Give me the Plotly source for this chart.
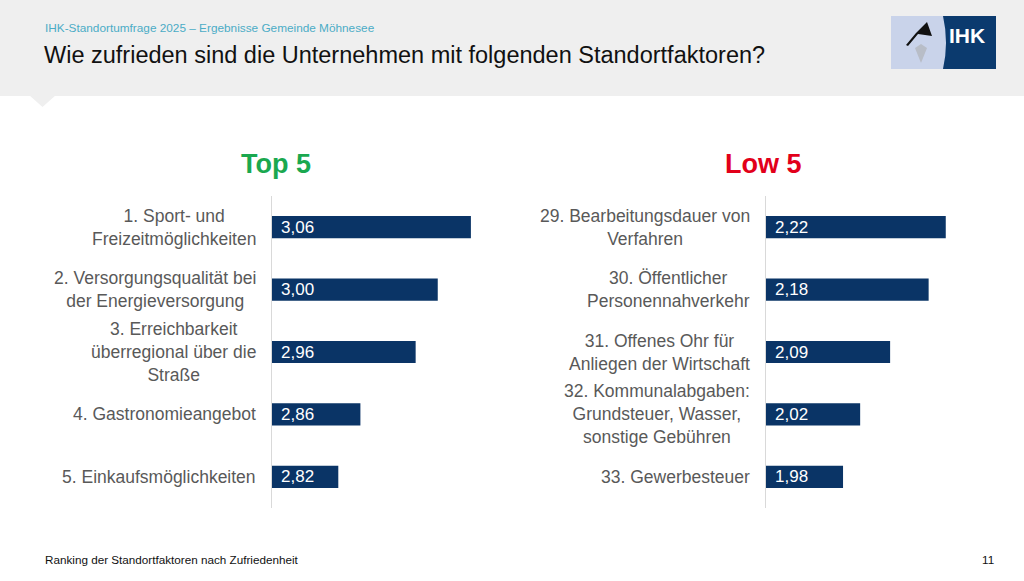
import plotly.graph_objects as go

W, H = 1024, 581

top_labels = ["1. Sport- und<br>Freizeitmöglichkeiten",
              "2. Versorgungsqualität bei<br>der Energieversorgung",
              "3. Erreichbarkeit<br>überregional über die<br>Straße",
              "4. Gastronomieangebot",
              "5. Einkaufsmöglichkeiten"]
top_values = [3.06, 3.00, 2.96, 2.86, 2.82]

low_labels = ["29. Bearbeitungsdauer von<br>Verfahren",
              "30. Öffentlicher<br>Personennahverkehr",
              "31. Offenes Ohr für<br>Anliegen der Wirtschaft",
              "32. Kommunalabgaben:<br>Grundsteuer, Wasser,<br>sonstige Gebühren",
              "33. Gewerbesteuer"]
low_values = [2.22, 2.18, 2.09, 2.02, 1.98]

top_keys = ["t1", "t2", "t3", "t4", "t5"]
low_keys = ["l1", "l2", "l3", "l4", "l5"]

BAR = "#0a3466"
FONT = "Liberation Sans, Arial, sans-serif"


def px(x):
    return x / W


def py(y):
    return 1 - y / H


def de(v):
    return f"{v:.2f}".replace(".", ",")


fig = go.Figure()

fig.add_trace(go.Bar(x=top_values, y=top_keys, orientation="h", xaxis="x", yaxis="y",
                     marker=dict(color=BAR, line=dict(width=0)), hoverinfo="skip"))
fig.add_trace(go.Bar(x=low_values, y=low_keys, orientation="h", xaxis="x2", yaxis="y2",
                     marker=dict(color=BAR, line=dict(width=0)), hoverinfo="skip"))

ydom = [py(508), py(196)]
axis_common = dict(showgrid=False, zeroline=False, showticklabels=False, ticks="", fixedrange=True)

fig.update_layout(
    width=W, height=H,
    margin=dict(l=0, r=0, t=0, b=0),
    paper_bgcolor="white", plot_bgcolor="rgba(0,0,0,0)",
    showlegend=False,
    bargap=0.645,
    font=dict(family=FONT),
    xaxis=dict(domain=[px(272), px(493)], range=[2.70, 3.10], anchor="y", **axis_common),
    yaxis=dict(domain=ydom, anchor="x", categoryorder="array", categoryarray=top_keys,
               autorange="reversed", showline=True, linecolor="#d9d9d9", linewidth=1.5,
               **axis_common),
    xaxis2=dict(domain=[px(766), px(980)], range=[1.80, 2.30], anchor="y2", **axis_common),
    yaxis2=dict(domain=ydom, anchor="x2", categoryorder="array", categoryarray=low_keys,
                autorange="reversed", showline=True, linecolor="#d9d9d9", linewidth=1.5,
                **axis_common),
)

shapes = []
# header band
shapes.append(dict(type="rect", xref="paper", yref="paper", x0=0, x1=1, y0=py(96), y1=1,
                   fillcolor="#efefef", line=dict(width=0), layer="below"))
# pointer triangle
shapes.append(dict(type="path", xref="paper", yref="paper",
                   path=f"M {px(29)} {py(95)} L {px(56)} {py(95)} L {px(42.5)} {py(107)} Z",
                   fillcolor="#efefef", line=dict(width=0), layer="below"))
# logo
shapes.append(dict(type="rect", xref="paper", yref="paper", x0=px(891), x1=px(996), y0=py(69), y1=py(16),
                   fillcolor="#c9d3ea", line=dict(width=0)))
shapes.append(dict(type="path", xref="paper", yref="paper",
                   path=(f"M {px(943)} {py(16)} Q {px(949)} {py(42.5)} {px(943)} {py(69)} "
                         f"L {px(996)} {py(69)} L {px(996)} {py(16)} Z"),
                   fillcolor="#0b3a6e", line=dict(width=0)))
shapes.append(dict(type="path", xref="paper", yref="paper",
                   path=(f"M {px(906)} {py(45)} L {px(916)} {py(33)} L {px(927)} {py(22)} "
                         f"L {px(932)} {py(36)} L {px(918)} {py(34)} L {px(908)} {py(46)} Z"),
                   fillcolor="#111111", line=dict(width=0)))
shapes.append(dict(type="path", xref="paper", yref="paper",
                   path=(f"M {px(915)} {py(48)} L {px(921)} {py(44)} L {px(927)} {py(48)} "
                         f"L {px(921)} {py(63)} Z"),
                   fillcolor="#b8bdc7", line=dict(width=0)))
fig.update_layout(shapes=shapes)

ann = []
for k, lab, v in zip(top_keys, top_labels, top_values):
    ann.append(dict(x=px(258), xref="paper", y=k, yref="y", text=lab, showarrow=False,
                    xanchor="right", yanchor="middle", align="center",
                    font=dict(size=17.5, color="#595959", family=FONT)))
    ann.append(dict(x=px(279), xref="paper", y=k, yref="y", text=de(v), showarrow=False,
                    xanchor="left", yanchor="middle", align="left",
                    font=dict(size=17, color="white", family=FONT)))
for k, lab, v in zip(low_keys, low_labels, low_values):
    ann.append(dict(x=px(752), xref="paper", y=k, yref="y2", text=lab, showarrow=False,
                    xanchor="right", yanchor="middle", align="center",
                    font=dict(size=17.5, color="#595959", family=FONT)))
    ann.append(dict(x=px(773), xref="paper", y=k, yref="y2", text=de(v), showarrow=False,
                    xanchor="left", yanchor="middle", align="left",
                    font=dict(size=17, color="white", family=FONT)))

ann += [
    dict(x=px(276), y=py(164), xref="paper", yref="paper", text="<b>Top 5</b>", showarrow=False,
         xanchor="center", yanchor="middle", font=dict(size=27, color="#1aa84f", family=FONT)),
    dict(x=px(763), y=py(164), xref="paper", yref="paper", text="<b>Low 5</b>", showarrow=False,
         xanchor="center", yanchor="middle", font=dict(size=27, color="#e2001a", family=FONT)),
    dict(x=px(43), y=py(28), xref="paper", yref="paper",
         text="IHK-Standortumfrage 2025 – Ergebnisse Gemeinde Möhnesee", showarrow=False,
         xanchor="left", yanchor="middle", font=dict(size=11.8, color="#4bacc6", family=FONT)),
    dict(x=px(42), y=py(55), xref="paper", yref="paper",
         text="Wie zufrieden sind die Unternehmen mit folgenden Standortfaktoren?", showarrow=False,
         xanchor="left", yanchor="middle", font=dict(size=23.5, color="#111111", family=FONT)),
    dict(x=px(43), y=py(559), xref="paper", yref="paper",
         text="Ranking der Standortfaktoren nach Zufriedenheit", showarrow=False,
         xanchor="left", yanchor="middle", font=dict(size=11.7, color="#111111", family=FONT)),
    dict(x=px(996), y=py(559), xref="paper", yref="paper", text="11", showarrow=False,
         xanchor="right", yanchor="middle", font=dict(size=11.7, color="#111111", family=FONT)),
    dict(x=px(967), y=py(35.5), xref="paper", yref="paper", text="<b>IHK</b>", showarrow=False,
         xanchor="center", yanchor="middle", font=dict(size=21, color="white", family=FONT)),
]
fig.update_layout(annotations=ann)

fig.write_html("out.html", config={"displayModeBar": False, "staticPlot": True},
               post_script="document.body.style.margin='0';document.body.style.overflow='hidden';")
